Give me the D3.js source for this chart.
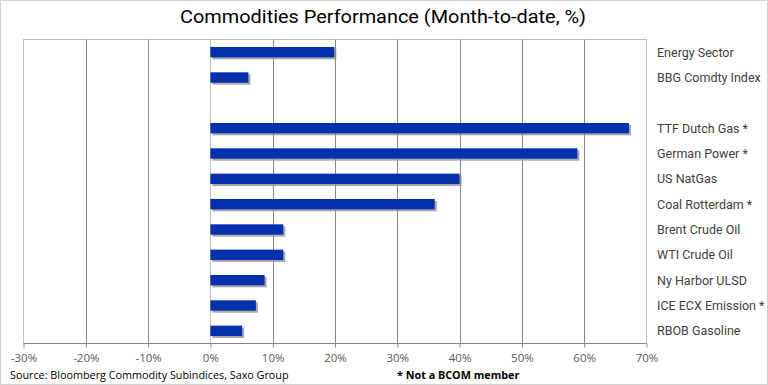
<!DOCTYPE html>
<html>
<head>
<meta charset="utf-8">
<script src="https://cdnjs.cloudflare.com/ajax/libs/d3/7.8.5/d3.min.js"></script>
<style>
body { margin: 0; background: #fff; }
text { font-family: Roboto, "Open Sans", sans-serif; }
.txtTick { font-family: "Open Sans", sans-serif; font-size: 11.5px; fill: #595959; }
.txtLabel { font-size: 12.5px; fill: #404040; }
.txtTitle { font-size: 19px; fill: #000; }
.txtNote { font-family: "Open Sans", sans-serif; font-size: 10.8px; fill: #000; }
</style>
</head>
<body>
<div id="D3Result"></div>
<script>
var categories = ["Energy Sector", "BBG Comdty Index", "", "TTF Dutch Gas *", "German Power *",
  "US NatGas", "Coal Rotterdam *", "Brent Crude Oil", "WTI Crude Oil", "Ny Harbor ULSD",
  "ICE ECX Emission *", "RBOB Gasoline"];
var values = [19.9, 6.1, null, 67.2, 58.9, 40.0, 36.0, 11.7, 11.7, 8.7, 7.3, 5.1];
var ticks = [-30, -20, -10, 0, 10, 20, 30, 40, 50, 60, 70];

function draw() {
    var width = 768;
    var height = 385;

    var svg = d3.select("body #D3Result")
    .append("svg")
    .attr("width", width)
    .attr("height", height);

    // outer frame
    svg.append("rect")
    .attr("x", 0.5).attr("y", 0.5)
    .attr("width", width - 1).attr("height", height - 1)
    .attr("fill", "#fff")
    .attr("stroke", "#d0d0d0");

    var left = 23.5, right = 646.5, top = 39.5, bottom = 343.5;

    var x = d3.scaleLinear().domain([-30, 70]).range([left, right]);
    var y = d3.scaleBand().domain(d3.range(categories.length))
    .range([top, bottom]).paddingInner(0.59).paddingOuter(0.295);

    // plot frame
    svg.append("rect")
    .attr("x", left).attr("y", top)
    .attr("width", right - left).attr("height", bottom - top)
    .attr("fill", "none")
    .attr("stroke", "#bfbfbf");

    // grid lines
    svg.append("g")
    .selectAll("line")
    .data(ticks.filter(function(t) { return t != -30 && t != 70; }))
    .enter().append("line")
    .attr("x1", function(d) { return Math.round(x(d)) + 0.5; })
    .attr("x2", function(d) { return Math.round(x(d)) + 0.5; })
    .attr("y1", top).attr("y2", bottom)
    .attr("stroke", function(d) { return d == 0 ? "#bfbfbf" : "#868686"; });

    // x axis
    var axis = svg.append("g")
    .attr("transform", "translate(0," + bottom + ")")
    .call(d3.axisBottom(x).tickValues(ticks).tickSize(4).tickPadding(5)
      .tickFormat(function(d) { return d + "%"; }));
    axis.select(".domain").attr("stroke", "#868686").attr("d", "M" + left + ",0H" + right);
    axis.selectAll(".tick line").attr("stroke", "#868686");
    axis.selectAll(".tick text").attr("class", "txtTick").attr("dy", "0.85em");

    // bars with shadow
    var data = values.map(function(v, i) { return { v: v, i: i }; })
    .filter(function(d) { return d.v != null; });

    svg.append("g").selectAll("rect")
    .data(data).enter().append("rect")
    .attr("x", x(0) + 2)
    .attr("y", function(d) { return y(d.i) + 2; })
    .attr("width", function(d) { return x(d.v) - x(0); })
    .attr("height", y.bandwidth())
    .attr("fill", "#8c8c8c")
    .attr("opacity", 0.75);

    svg.append("g").selectAll("rect")
    .data(data).enter().append("rect")
    .attr("x", x(0))
    .attr("y", function(d) { return y(d.i); })
    .attr("width", function(d) { return x(d.v) - x(0); })
    .attr("height", y.bandwidth())
    .attr("fill", "#0530ad");

    // category labels
    svg.append("g").selectAll("text")
    .data(categories).enter().append("text")
    .attr("class", "txtLabel")
    .attr("x", 657)
    .attr("y", function(d, i) { return y(i) + y.bandwidth() / 2; })
    .attr("dy", "0.35em")
    .text(function(d) { return d; });

    // title
    svg.append("text")
    .attr("class", "txtTitle")
    .attr("x", 383).attr("y", 23)
    .attr("text-anchor", "middle")
    .attr("textLength", 406)
    .attr("lengthAdjust", "spacingAndGlyphs")
    .text("Commodities Performance (Month-to-date, %)");

    svg.append("text")
    .attr("class", "txtNote")
    .attr("x", 10).attr("y", 379)
    .text("Source: Bloomberg Commodity Subindices, Saxo Group");

    svg.append("text")
    .attr("class", "txtNote")
    .attr("x", 397).attr("y", 379)
    .attr("font-weight", "bold")
    .text("* Not a BCOM member");
}

draw();
</script>
</body>
</html>
